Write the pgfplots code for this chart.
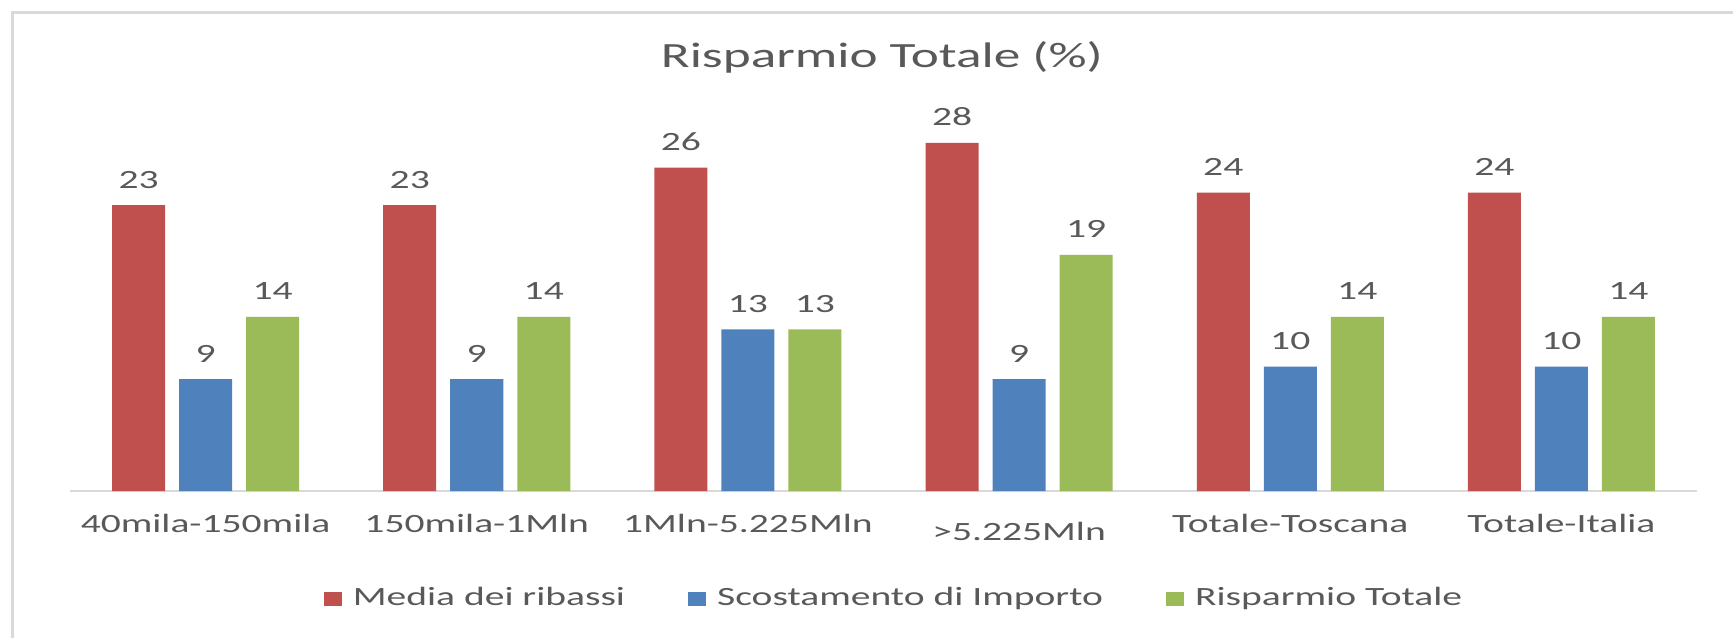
\documentclass[border=0pt]{standalone}
\usepackage{pgfplots}
\pgfplotsset{compat=1.18}
\usepackage{fontspec}
\setmainfont{Carlito}
\newfontfamily\cf{Carlito}[FakeStretch=1.5]
\definecolor{cred}{HTML}{C0504D}
\definecolor{cblue}{HTML}{4F81BD}
\definecolor{cgreen}{HTML}{9BBB59}
\definecolor{txt}{HTML}{595959}
\definecolor{rule}{HTML}{D9D9D9}

\begin{document}
\begin{tikzpicture}
\path[use as bounding box] (0,0) rectangle (173.3mm,63.8mm);
\draw[rule, line width=0.8pt] (1.25mm,0) -- (1.25mm,62.55mm) -- (173.3mm,62.55mm);
\begin{axis}[
  at={(7.0mm,14.7mm)}, anchor=south west,
  scale only axis, width=162.7mm, height=37.3mm,
  xmin=-0.5, xmax=5.5, ymin=0, ymax=30,
  ybar=1.4mm, bar width=5.3mm,
  axis x line=bottom, axis y line=none,
  axis line style={-, rule, line width=0.8pt},
  major tick length=0,
  xtick={0,1,2,3,4,5},
  xticklabels={40mila-150mila,150mila-1Mln,1Mln-5.225Mln,{\raisebox{-0.8mm}{>5.225Mln}},Totale-Toscana,Totale-Italia},
  xticklabel style={anchor=base, yshift=-4.1mm, font=\cf\fontsize{7.5}{9}\selectfont, text=txt},
  /pgf/number format/assume math mode=true,
  nodes near coords,
  every node near coord/.append style={anchor=base, yshift=1.7mm, font=\cf\fontsize{7.5}{9}\selectfont, text=txt},
  title={Risparmio Totale (\%)},
  title style={at={(0.499,1.105)}, anchor=center, font=\cf\fontsize{10.1}{12}\selectfont, text=txt},
  legend columns=3,
  legend style={draw=none, at={(0.508,-0.29)}, anchor=center,
    font=\cf\fontsize{7.5}{9}\selectfont, text=txt,
    /tikz/every odd column/.append style={column sep=0.4mm},
    /tikz/every even column/.append style={column sep=5.6mm}},
  legend image code/.code={\path[#1,draw=none] (0mm,-0.7mm) rectangle (1.8mm,0.7mm);},
]
\addplot[fill=cred, draw=none] coordinates {(0,23) (1,23) (2,26) (3,28) (4,24) (5,24)};
\addplot[fill=cblue, draw=none] coordinates {(0,9) (1,9) (2,13) (3,9) (4,10) (5,10)};
\addplot[fill=cgreen, draw=none] coordinates {(0,14) (1,14) (2,13) (3,19) (4,14) (5,14)};
\legend{Media dei ribassi, Scostamento di Importo, Risparmio Totale}
\end{axis}
\end{tikzpicture}
\end{document}
